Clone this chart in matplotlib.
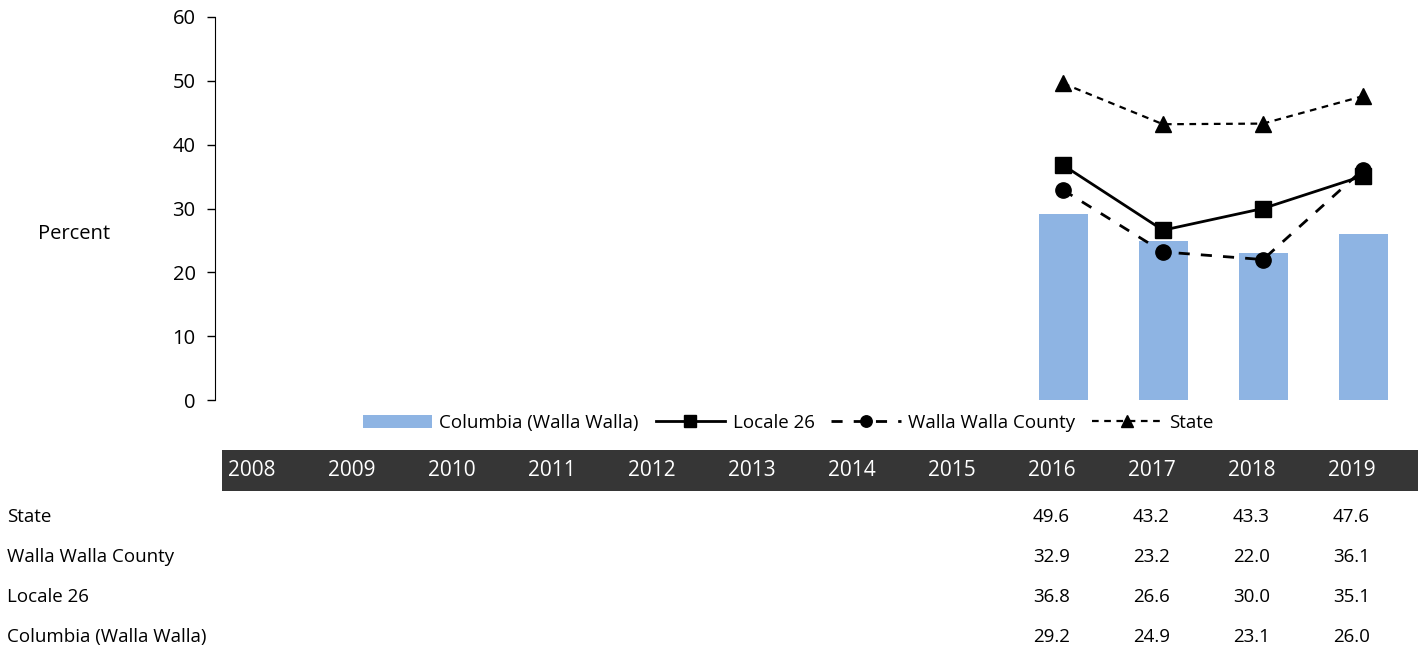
import numpy as np
import matplotlib.pyplot as plt
from matplotlib.patches import Rectangle
from matplotlib.transforms import blended_transform_factory

plt.rcParams["font.family"] = ["Open Sans", "DejaVu Sans"]

years = ["2008", "2009", "2010", "2011", "2012", "2013", "2014",
         "2015", "2016", "2017", "2018", "2019"]
nan = np.nan
state = [nan] * 8 + [49.6, 43.2, 43.3, 47.6]
county = [nan] * 8 + [32.9, 23.2, 22.0, 36.1]
locale = [nan] * 8 + [36.8, 26.6, 30.0, 35.1]
district = [nan] * 8 + [29.2, 24.9, 23.1, 26.0]

fig = plt.figure(figsize=(14.24, 6.52), dpi=100)
ax = fig.add_axes([213 / 1424, 1 - 400 / 652, 1200 / 1424, 383 / 652])

x = np.arange(len(years))
bars = ax.bar(x, district, width=0.49, color="#8EB4E3",
              label="Columbia (Walla Walla)", zorder=1)
l1, = ax.plot(x, locale, color="black", lw=2, marker="s", ms=11, label="Locale 26", zorder=3)
l2, = ax.plot(x, county, color="black", lw=2, ls=(0, (4, 4)), marker="o", ms=11,
              label="Walla Walla County", zorder=3)
l3, = ax.plot(x, state, color="black", lw=1.6, ls=(0, (3, 2.5)), marker="^", ms=11,
              label="State", zorder=3)

ax.set_xlim(-0.5, 11.5)
ax.set_ylim(0, 60)
ax.set_yticks(range(0, 61, 10))
ax.set_xticks([])
for s in ["top", "right", "bottom"]:
    ax.spines[s].set_visible(False)
ax.spines["left"].set_position(("axes", 2 / 1200))
ax.tick_params(axis="y", labelsize=14.5, length=6, width=1, pad=8)
fig.text(38 / 1424, 1 - 234 / 652, "Percent", fontsize=14.5, ha="left", va="center")

ax.legend(handles=[bars, l1, l2, l3], loc="center",
          bbox_to_anchor=(788 / 1424, 1 - 423 / 652),
          bbox_transform=fig.transFigure, ncol=4, frameon=False, fontsize=13.5,
          handlelength=3.7, handletextpad=0.4, columnspacing=0.9, markerscale=0.75)

# data table under the chart
tr = blended_transform_factory(ax.transData, fig.transFigure)
ax.add_patch(Rectangle((-0.41, 1 - 491 / 652), 11.96, 41 / 652, transform=tr,
                       facecolor="#363636", edgecolor="none", clip_on=False))
for i, yr in enumerate(years):
    fig.text(i - 0.35, 1 - 471 / 652, yr, transform=tr, color="white",
             fontsize=15, ha="left", va="center")

rows = [("State", state), ("Walla Walla County", county),
        ("Locale 26", locale), ("Columbia (Walla Walla)", district)]
for r, (name, vals) in enumerate(rows):
    yy = 1 - (517 + 40 * r) / 652
    fig.text(7 / 1424, yy, name, fontsize=13.5, ha="left", va="center")
    for i, v in enumerate(vals):
        if not np.isnan(v):
            fig.text(i - 0.30, yy, f"{v:.1f}", transform=tr, fontsize=13.5,
                     ha="left", va="center")

fig.savefig("out.png", dpi=100)
